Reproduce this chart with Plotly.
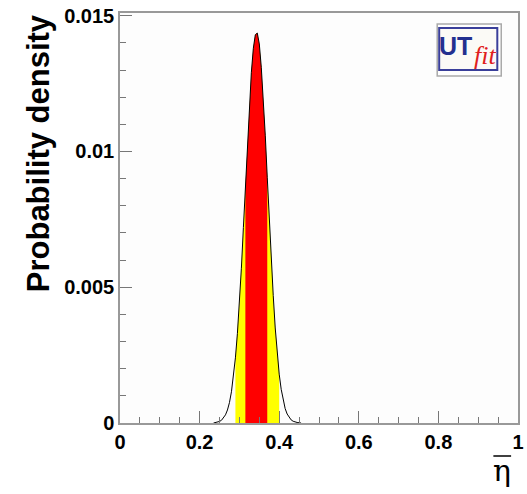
import plotly.graph_objects as go

# Posterior curve for eta-bar
eta = [0.235, 0.240, 0.245, 0.250, 0.255, 0.260, 0.265, 0.270, 0.275, 0.280, 0.285,
       0.290, 0.295, 0.300, 0.305, 0.310, 0.315, 0.320, 0.325, 0.330, 0.335,
       0.340, 0.345, 0.350, 0.355, 0.360, 0.365, 0.370, 0.375, 0.380, 0.385,
       0.390, 0.395, 0.400, 0.405, 0.410, 0.415, 0.420, 0.425, 0.430, 0.435,
       0.440, 0.445, 0.450, 0.455]
density = [0.0, 0.000017, 0.000032, 0.000057, 0.00010, 0.00018, 0.00030, 0.00048, 0.00075, 0.00115, 0.00169,
           0.0024, 0.0033, 0.0044, 0.0057, 0.0072, 0.0087, 0.0103, 0.0117, 0.0129, 0.0138,
           0.0143, 0.01436, 0.01396, 0.0131, 0.0120, 0.0106, 0.00905, 0.0075, 0.0060, 0.0047,
           0.0035, 0.00255, 0.0018, 0.00124, 0.00082, 0.00053, 0.00033, 0.00020, 0.000115, 0.000065,
           0.000036, 0.000019, 0.00001, 0.0]

band68 = (0.315, 0.370)
band95 = (0.290, 0.400)

x_ticks = [0, 0.2, 0.4, 0.6, 0.8, 1.0]
x_ticktext = ["0", "0.2", "0.4", "0.6", "0.8", "1"]
y_ticks = [0, 0.005, 0.01, 0.015]
y_ticktext = ["0", "0.005", "0.01", "0.015"]


def band(lo, hi):
    pts = [(x, y) for x, y in zip(eta, density) if lo - 1e-9 <= x <= hi + 1e-9]
    return [p[0] for p in pts], [p[1] for p in pts]


fig = go.Figure()
x95, y95 = band(*band95)
fig.add_trace(go.Scatter(x=x95, y=y95, fill="tozeroy", fillcolor="#ffff00",
                         mode="lines", line=dict(width=0, color="#ffff00"),
                         hoverinfo="skip", showlegend=False))
x68, y68 = band(*band68)
fig.add_trace(go.Scatter(x=x68, y=y68, fill="tozeroy", fillcolor="#ff0000",
                         mode="lines", line=dict(width=0, color="#ff0000"),
                         hoverinfo="skip", showlegend=False))
fig.add_trace(go.Scatter(x=eta, y=density, mode="lines", line=dict(color="black", width=1),
                         showlegend=False))

axis_font = dict(family="Liberation Sans", size=20, color="black", weight="bold")
fig.update_xaxes(range=[0, 1], tickvals=x_ticks, ticktext=x_ticktext,
                 ticks="inside", ticklen=12, tickcolor="#777", tickwidth=1,
                 showline=True, linecolor="#999", linewidth=1.5, mirror=True,
                 showgrid=False, zeroline=False, tickfont=axis_font,
                 ticklabeloverflow="allow",
                 minor=dict(ticks="inside", ticklen=6, dtick=0.05, tickcolor="#777", showgrid=False))
fig.update_yaxes(range=[0, 0.0151], tickvals=y_ticks, ticktext=y_ticktext,
                 ticks="inside", ticklen=12, tickcolor="#777", tickwidth=1,
                 showline=True, linecolor="#999", linewidth=1.5, mirror=True,
                 showgrid=False, zeroline=False, tickfont=axis_font,
                 ticklabeloverflow="allow",
                 minor=dict(ticks="inside", ticklen=6, dtick=0.001, tickcolor="#777", showgrid=False))

W, H = 527, 494
L, R, T, B = 120, 3, 13, 71


def px(x, y):
    return (x - L) / (W - L - R), (H - B - y) / (H - T - B)


def ann(text, x, y, **kw):
    ax, ay = px(x, y)
    return dict(text=text, x=ax, y=ay, xref="paper", yref="paper",
                xanchor="center", yanchor="middle", showarrow=False, **kw)


annotations = [
    ann("<b>Probability density</b>", 37, 153, textangle=-90,
        font=dict(family="Liberation Sans", size=31, color="black")),
    ann("η", 508, 470, font=dict(family="DejaVu Serif", size=30, color="black")),
    ann("<b>UT</b>", 461, 46, font=dict(family="Liberation Sans", size=25, color="#23308f")),
    ann("<i>fit</i>", 490, 56, font=dict(family="Liberation Serif", size=26, color="#e0201c")),
]


def rect(x0, y0, x1, y1, **kw):
    ax0, ay0 = px(x0, y0)
    ax1, ay1 = px(x1, y1)
    return dict(type="rect", xref="paper", yref="paper", x0=ax0, x1=ax1, y0=ay0, y1=ay1, **kw)


def line(x0, y0, x1, y1, **kw):
    ax0, ay0 = px(x0, y0)
    ax1, ay1 = px(x1, y1)
    return dict(type="line", xref="paper", yref="paper", x0=ax0, x1=ax1, y0=ay0, y1=ay1, **kw)


shapes = [
    rect(442, 24, 507, 76, line=dict(color="#aaaaaa", width=1.5), fillcolor="white", layer="above"),
    rect(444, 28, 503, 70, line=dict(color="#3a3f9a", width=2), fillcolor="#fbfaf6", layer="above"),
    line(499, 456, 517, 456, line=dict(color="black", width=1.5)),
]

fig.update_layout(width=W, height=H, margin=dict(l=L, r=R, t=T, b=B),
                  paper_bgcolor="white", plot_bgcolor="#fdfdfd",
                  annotations=annotations, shapes=shapes)
fig.write_html("out.html")
